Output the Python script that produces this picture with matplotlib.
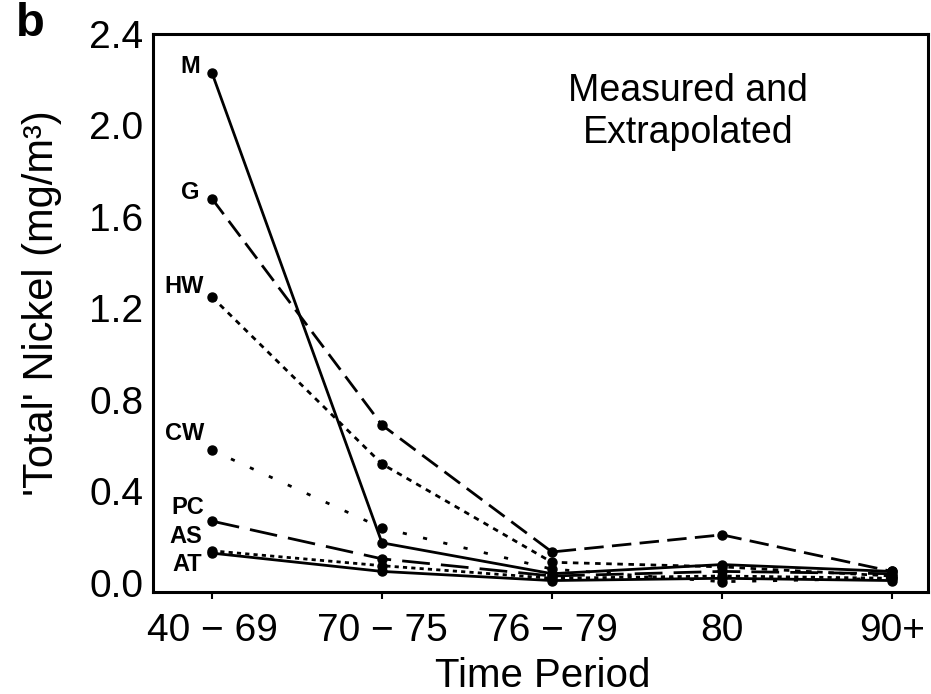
import matplotlib
matplotlib.use("Agg")
import matplotlib.pyplot as plt

plt.rcParams['font.family'] = ['Liberation Sans', 'DejaVu Sans']
plt.rcParams['lines.scale_dashes'] = False

# time periods on the x axis
periods = ['40 − 69', '70 − 75', '76 − 79', '80', '90+']

# 'total' nickel (mg/m3) per job group
M = [2.23, 0.175, 0.04, 0.08, 0.05]
G = [1.68, 0.69, 0.135, 0.21, 0.05]
HW = [1.25, 0.52, 0.09, 0.07, 0.03]
CW = [0.58, 0.24, 0.06, 0.005, 0.02]
PC = [0.27, 0.105, 0.03, 0.05, 0.04]
AS = [0.14, 0.075, 0.02, 0.03, 0.02]
AT = [0.13, 0.05, 0.01, 0.02, 0.01]

series = [('M', M), ('G', G), ('HW', HW), ('CW', CW), ('PC', PC), ('AS', AS), ('AT', AT)]
styles = {
    'M': '-',
    'G': (0, (14, 6)),
    'HW': (0, (4, 4)),
    'CW': (0, (3, 12)),
    'PC': (0, (20, 8)),
    'AS': (0, (3, 3)),
    'AT': '-',
}
# label offsets in pixels (dx, dy) from the first point
label_off = {'M': (-12, 6), 'G': (-12, 6), 'HW': (-8, 10), 'CW': (-8, 17),
             'PC': (-8, 14), 'AS': (-10, 14), 'AT': (-10, -11)}

fig = plt.figure(figsize=(9.31, 6.94), dpi=100)
ax = fig.add_axes([153 / 931, 1 - 592 / 694, 775 / 931, 558 / 694])

x = list(range(len(periods)))
for name, vals in series:
    ax.plot(x, vals, color='black', linestyle=styles[name], linewidth=2.0,
            marker='o', markersize=6.5)
    dx, dy = label_off[name]
    ax.annotate(name, xy=(0, vals[0]), xytext=(dx, dy), textcoords='offset pixels',
                ha='right', va='center', fontsize=17, fontweight='bold')

ax.set_xlim(-0.347, 4.212)
ax.set_ylim(-0.04, 2.4)
ax.set_xticks(x)
ax.set_xticklabels(periods)
ax.set_yticks([0.0, 0.4, 0.8, 1.2, 1.6, 2.0, 2.4])
ax.set_yticklabels(['0.0', '0.4', '0.8', '1.2', '1.6', '2.0', '2.4'])
ax.tick_params(axis='y', length=0, pad=7, labelsize=28)
ax.tick_params(axis='x', direction='out', length=5, width=1.5, pad=10, labelsize=28)
for s in ax.spines.values():
    s.set_linewidth(2.2)

ax.text(0.69, 0.86, 'Measured and\nExtrapolated', transform=ax.transAxes,
        ha='center', va='center', fontsize=27, linespacing=1.2)

fig.text(42 / 931, 1 - 303 / 694, "'Total' Nickel (mg/m³)", rotation=90,
         ha='center', va='center', fontsize=30)
fig.text(543 / 931, 1 - 676 / 694, 'Time Period', ha='center', va='center', fontsize=29)
fig.text(30 / 931, 1 - 24 / 694, 'b', ha='center', va='center', fontsize=34, fontweight='bold')

fig.savefig('out.png', dpi=100)
